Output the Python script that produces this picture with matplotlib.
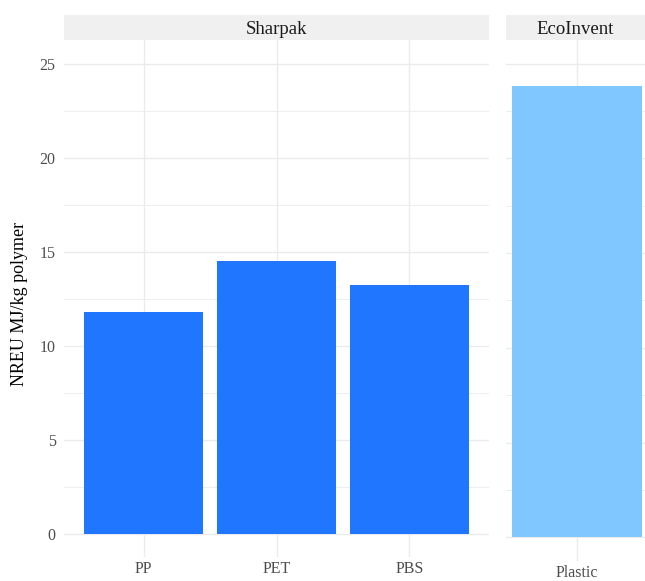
import numpy as np
import matplotlib.pyplot as plt
from matplotlib.ticker import MultipleLocator

plt.rcParams['font.family'] = ['Liberation Serif', 'DejaVu Serif']

# data
sharpak_cats = ['PP', 'PET', 'PBS']
sharpak_vals = [11.8, 14.5, 13.2]
eco_cats = ['Plastic']
eco_vals = [23.8]

W, H = 645, 581
fig = plt.figure(figsize=(W / 100, H / 100), dpi=100)

def px_axes(x0, y0, x1, y1):
    return fig.add_axes([x0 / W, 1 - y1 / H, (x1 - x0) / W, (y1 - y0) / H])

grid_c = '#ebebeb'
strip_c = '#f0f0f0'
ylim = (-1.25, 26.25)

def style(ax, show_y):
    ax.set_ylim(*ylim)
    ax.yaxis.set_major_locator(MultipleLocator(5))
    ax.yaxis.set_minor_locator(MultipleLocator(2.5))
    ax.grid(True, which='major', color=grid_c, lw=1.0)
    ax.grid(True, which='minor', axis='y', color=grid_c, lw=0.6)
    ax.set_axisbelow(True)
    for s in ax.spines.values():
        s.set_visible(False)
    ax.tick_params(which='both', length=0, labelsize=11.5, labelcolor='#4d4d4d')
    ax.tick_params(axis='x', pad=3)
    ax.tick_params(axis='y', pad=6)
    if not show_y:
        ax.tick_params(axis='y', labelleft=False)

# left facet
ax1 = px_axes(64, 40, 489, 557)
x1 = np.arange(len(sharpak_cats))
ax1.bar(x1, sharpak_vals, width=0.9, color='#2176FF')
ax1.set_xticks(x1)
ax1.set_xticklabels(sharpak_cats)
ax1.set_xlim(-0.6, len(sharpak_cats) - 0.4)
style(ax1, True)
ax1.set_ylabel('NREU MJ/kg polymer', fontsize=13, color='black')
ax1.yaxis.set_label_coords(-0.084, 0.49)

# right facet
ax2 = px_axes(506, 40, 645, 561)
x2 = np.arange(len(eco_cats))
ax2.bar(x2, eco_vals, width=0.9, color='#80C6FF')
ax2.set_xticks(x2)
ax2.set_xticklabels(eco_cats)
ax2.set_xlim(-0.493, 0.472)
style(ax2, False)

# facet strips
for (x0, x1_, label) in [(64, 489, 'Sharpak'), (506, 645, 'EcoInvent')]:
    sax = px_axes(x0, 15, x1_, 40)
    sax.set_facecolor(strip_c)
    sax.set_xticks([])
    sax.set_yticks([])
    for s in sax.spines.values():
        s.set_visible(False)
    sax.text(0.5, 0.42, label, ha='center', va='center', fontsize=13.5,
             color='#1a1a1a', transform=sax.transAxes)

fig.savefig('out.png', dpi=100)
